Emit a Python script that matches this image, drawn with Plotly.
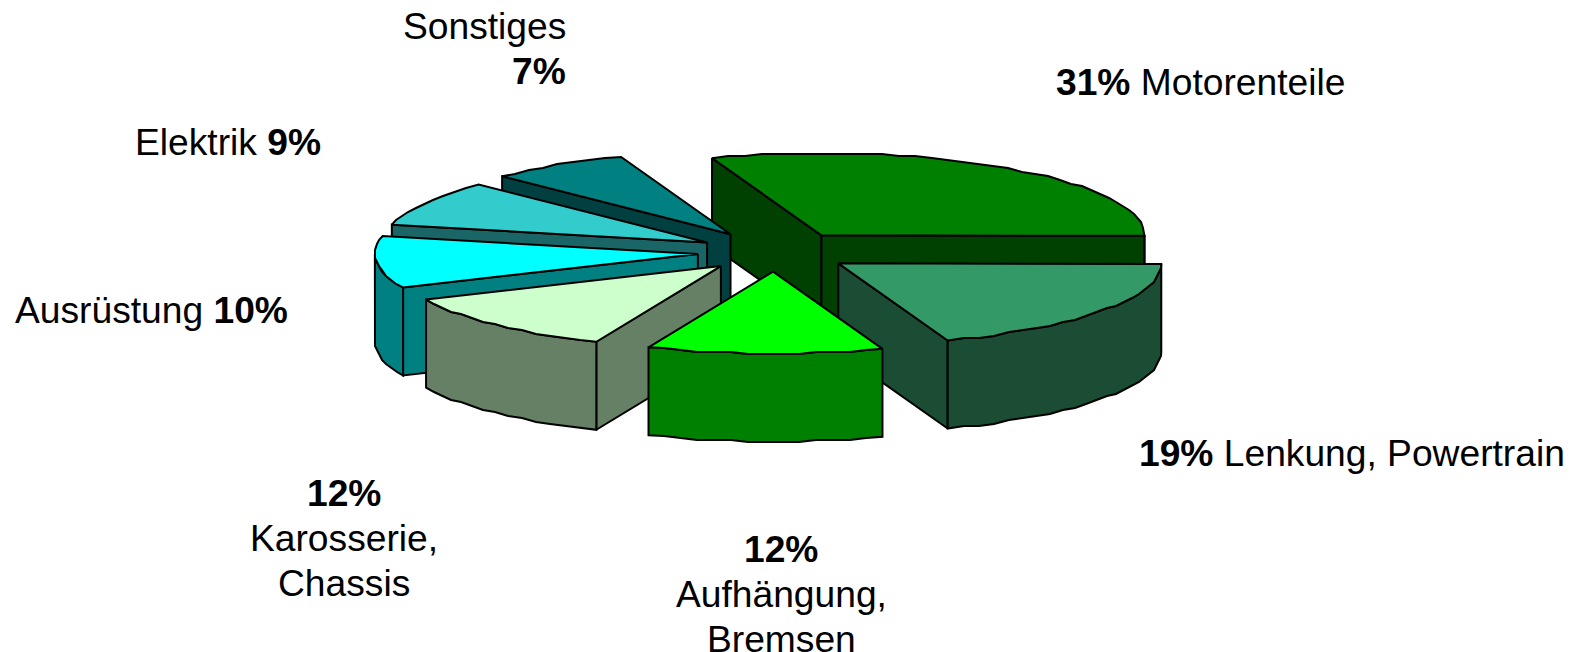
import numpy as np
import plotly.graph_objects as go

# ---- data ----
categories = ["Motorenteile", "Lenkung, Powertrain", "Aufhängung, Bremsen", "Karosserie, Chassis",
              "Ausrüstung", "Elektrik", "Sonstiges"]
shares = [30.6, 19.4, 11.8, 12, 10.2, 9, 7]   # slice sizes as measured; labels show them rounded
top_colors = ["#008000", "#339966", "#00FF00", "#CCFFCC", "#00FFFF", "#33CCCC", "#008080"]
side_colors = ["#004000", "#1A4D33", "#008000", "#668066", "#008080", "#1A6666", "#004040"]
explode = [0.249, 0.24, 0.24, 0.24, 0.24, 0.24, 0.257]
draw_order = [0, 6, 5, 4, 3, 1, 2]

# text of each label, line by line: (text, bold); "{}" takes the rounded share
label_lines = {
    "Motorenteile": [[("{}%", True), (" Motorenteile", False)]],
    "Lenkung, Powertrain": [[("{}%", True), (" Lenkung, Powertrain", False)]],
    "Aufhängung, Bremsen": [[("{}%", True)], [("Aufhängung,", False)], [("Bremsen", False)]],
    "Karosserie, Chassis": [[("{}%", True)], [("Karosserie,", False)], [("Chassis", False)]],
    "Ausrüstung": [[("Ausrüstung ", False), ("{}%", True)]],
    "Elektrik": [[("Elektrik ", False), ("{}%", True)]],
    "Sonstiges": [[("Sonstiges", False)], [("{}%", True)]],
}
# label placement: anchor x, first line y, x anchor
label_pos = {
    "Motorenteile": (1054, 82, "left"),
    "Lenkung, Powertrain": (1137, 453, "left"),
    "Aufhängung, Bremsen": (781, 549, "center"),
    "Karosserie, Chassis": (344, 493, "center"),
    "Ausrüstung": (13, 310, "left"),
    "Elektrik": (133, 142, "left"),
    "Sonstiges": (568, 26, "right"),
}

# ---- pie projection ----
CX, CY = 775, 252
A, B = 323, 82
DEPTH = 88
START = 109.8
FONT = "Liberation Sans, Arial, sans-serif"
FS = 37.2
LINE_H = 45


def project(theta, ox, oy, drop=0.0):
    t = np.radians(theta)
    return ox + A * np.cos(t), oy - B * np.sin(t) + drop


def rough_arc(t1, t2, ox, oy, drop=0.0):
    n = max(int(abs(t1 - t2) / 3.0), 1)
    th = np.linspace(t1, t2, n + 1)
    x, y = project(th, ox, oy)
    x = np.round(x)
    y = np.round(y / 2) * 2 + drop
    x[0], y[0] = project(t1, ox, oy, drop)
    x[-1], y[-1] = project(t2, ox, oy, drop)
    return list(x), list(y)


fig = go.Figure()


def poly(xs, ys, color):
    fig.add_trace(go.Scatter(
        x=list(xs) + [xs[0]], y=list(ys) + [ys[0]], mode="lines", fill="toself",
        fillcolor=color, line=dict(color="black", width=2), hoverinfo="skip", showlegend=False))


# angular bounds computed from the shares
total = sum(shares)
edges = START - np.cumsum([0] + shares) * 360.0 / total

for i in draw_order:
    t1, t2 = edges[i], edges[i + 1]
    mid = np.radians((t1 + t2) / 2)
    ox = CX + explode[i] * A * np.cos(mid)
    oy = CY - explode[i] * B * np.sin(mid)
    top, side = top_colors[i], side_colors[i]

    # visible cut faces
    for th, visible in ((t1, np.cos(np.radians(t1)) < 0), (t2, np.cos(np.radians(t2)) > 0)):
        if visible:
            px, py = project(th, ox, oy)
            poly([ox, px, px, ox], [oy, py, py + DEPTH, oy + DEPTH], side)

    # outer wall: only the part on the near side of the pie (-180..0 degrees)
    a1, a2 = min(t1, 0.0), max(t2, -180.0)
    if a1 > a2:
        ux, uy = rough_arc(a1, a2, ox, oy)
        lx, ly = rough_arc(a2, a1, ox, oy, DEPTH)
        poly(ux + lx, uy + ly, side)

    # top face
    ax, ay = rough_arc(t1, t2, ox, oy)
    poly([ox] + ax, [oy] + ay, top)

# ---- labels ----
annotations = []
for cat, share in zip(categories, shares):
    x0, y0, anchor = label_pos[cat]
    for n, parts in enumerate(label_lines[cat]):
        text = "".join(f"<b>{t.format(round(share))}</b>" if b else t for t, b in parts)
        annotations.append(dict(
            x=x0, y=y0 + n * LINE_H, xref="x", yref="y", text=text, showarrow=False,
            xanchor=anchor, yanchor="middle", font=dict(family=FONT, size=FS, color="black")))

fig.update_layout(
    width=1581, height=652, margin=dict(l=0, r=0, t=0, b=0),
    paper_bgcolor="white", plot_bgcolor="white", showlegend=False,
    xaxis=dict(range=[0, 1581], visible=False, fixedrange=True),
    yaxis=dict(range=[652, 0], visible=False, fixedrange=True),
    annotations=annotations,
)
fig.write_html("out.html", config={"displayModeBar": False},
               post_script="document.body.style.margin='0';document.body.style.overflow='hidden';")
